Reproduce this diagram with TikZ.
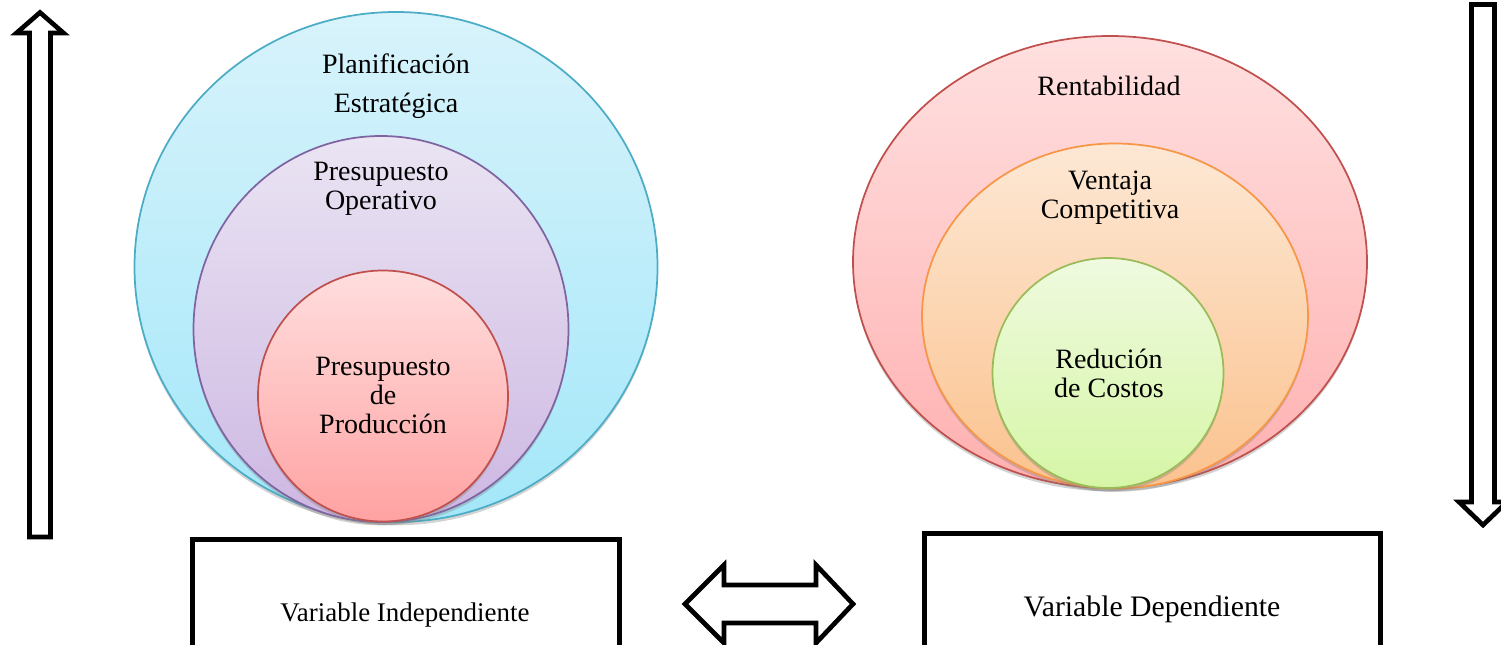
\documentclass[tikz,border=0pt]{standalone}
\usepackage{fontspec}
\setmainfont{Liberation Serif}
\usetikzlibrary{shapes.geometric,shadows}
\definecolor{cyT}{HTML}{D8F3FB}\definecolor{cyB}{HTML}{A3E7F9}\definecolor{cyL}{HTML}{4BACC6}
\definecolor{puT}{HTML}{EAE4F3}\definecolor{puB}{HTML}{CDB7E2}\definecolor{puL}{HTML}{8064A2}
\definecolor{reT}{HTML}{FFDEDE}\definecolor{reB}{HTML}{FFA2A2}\definecolor{reL}{HTML}{C0504D}
\definecolor{rrT}{HTML}{FFE0E0}\definecolor{rrB}{HTML}{FFB0B0}
\definecolor{orT}{HTML}{FDE8D5}\definecolor{orB}{HTML}{FBC28E}\definecolor{orL}{HTML}{F79646}
\definecolor{grT}{HTML}{EFFADF}\definecolor{grB}{HTML}{D6F6A6}\definecolor{grL}{HTML}{9BBB59}
\tikzset{
  ell/.style={ellipse, inner sep=0pt, line width=1.3pt,
    drop shadow={opacity=0.35, shadow xshift=0pt, shadow yshift=-2.5pt}},
  lbl/.style={align=center, inner sep=0pt, font=\fontsize{21}{21.75}\selectfont},
  boxlbl/.style={inner sep=0pt, font=\fontsize{20.2}{22}\selectfont},
  frame/.style={draw=black, line width=3.75pt, line join=miter},
  bigarrow/.style={draw=black, fill=white, line width=3.5pt, line join=miter}
}
\begin{document}
\begin{tikzpicture}[x=0.75pt,y=-0.75pt]
\useasboundingbox (0,0) rectangle (1501,645);
\clip (0,0) rectangle (1501,645);
% left set of ellipses
\node[ell, draw=cyL, top color=cyT, bottom color=cyB, minimum width=392.25pt, minimum height=382.5pt] (plan) at (396,267) {};
\node[ell, draw=puL, top color=puT, bottom color=puB, minimum width=281.25pt, minimum height=289.5pt] (oper) at (381,329) {};
\node[ell, draw=reL, top color=reT, bottom color=reB, minimum width=187.5pt, minimum height=188.25pt] (prod) at (383,396) {};
\node[lbl] (tplan) at (396,86) {Planificación\\[7pt]Estratégica};
\node[lbl] (toper) at (381,189) {Presupuesto\\Operativo};
\node[lbl] (tprod) at (383,395) {Presupuesto\\de\\Producción};
% right set of ellipses
\node[ell, draw=reL, top color=rrT, bottom color=rrB, minimum width=385.5pt, minimum height=339pt] (rent) at (1110,262) {};
\node[ell, draw=orL, top color=orT, bottom color=orB, minimum width=289.5pt, minimum height=258.75pt] (vent) at (1115,316) {};
\node[ell, draw=grL, top color=grT, bottom color=grB, minimum width=173.25pt, minimum height=172.5pt] (cost) at (1108,373) {};
\node[lbl] (trent) at (1109,86) {Rentabilidad};
\node[lbl] (tvent) at (1110,198) {Ventaja\\Competitiva};
\node[lbl] (tcost) at (1109,373) {Redución\\de Costos};
% boxes
\draw[frame] (192.5,660) -- (192.5,539.5) -- (619.5,539.5) -- (619.5,660);
\draw[frame] (924.5,660) -- (924.5,533.5) -- (1380.5,533.5) -- (1380.5,660);
\node[boxlbl] (vind) at (405,615) {Variable Independiente};
\node[boxlbl, font=\fontsize{22.3}{24}\selectfont] (vdep) at (1152,609) {Variable Dependiente};
% up arrow (left)
\draw[bigarrow] (29.5,537) -- (29.5,33) -- (16.5,33) -- (40,12.5) -- (63.5,33) -- (50.5,33) -- (50.5,537) -- cycle;
% down arrow (right)
\draw[bigarrow] (1471.5,4.5) -- (1494.5,4.5) -- (1494.5,502) -- (1507,502) -- (1483,525) -- (1459,502) -- (1471.5,502) -- cycle;
% double arrow
\draw[bigarrow] (685,604) -- (724,565) -- (724,585) -- (816,585) -- (816,565) -- (853,604) -- (816,643) -- (816,623) -- (724,623) -- (724,643) -- cycle;
\end{tikzpicture}
\end{document}
